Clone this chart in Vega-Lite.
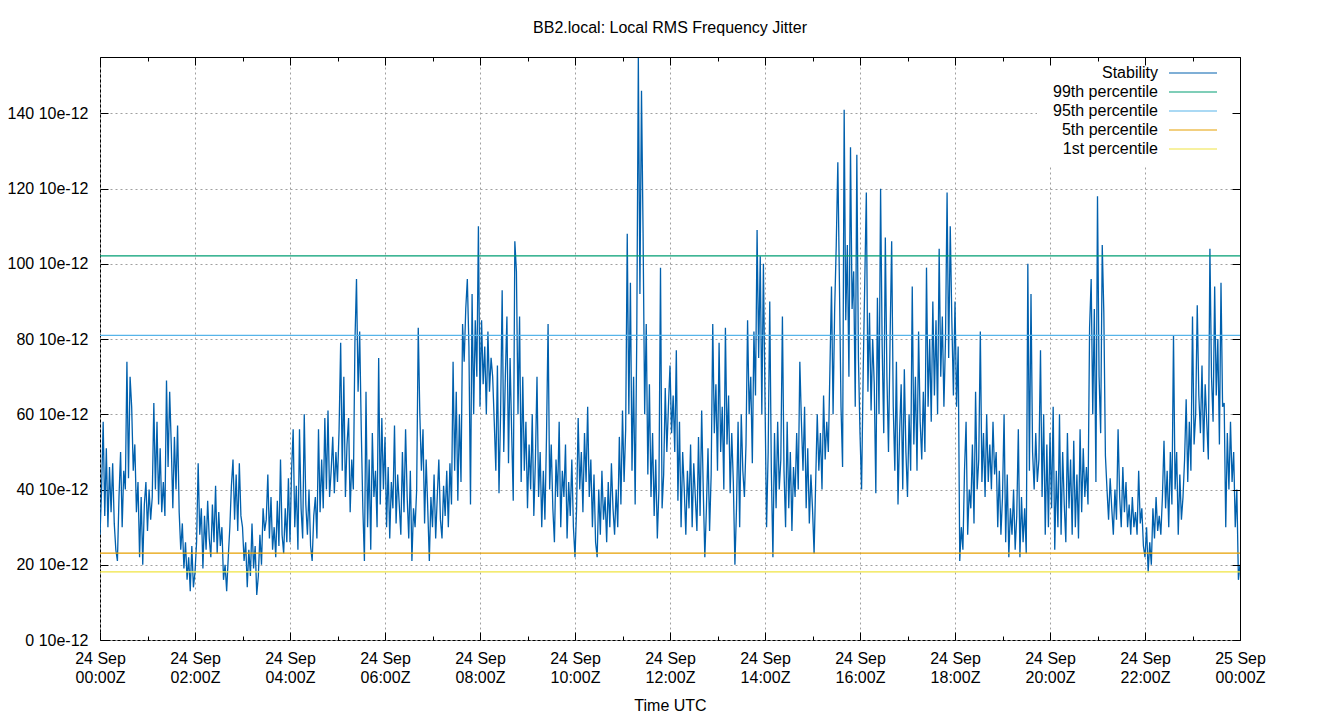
{
"$schema": "https://vega.github.io/schema/vega-lite/v6.json",
"width": 1140, "height": 583,
"autosize": "none",
"padding": {"left": 100, "top": 57, "right": 100, "bottom": 80},
"background": "white",
"config": {
 "font": "Liberation Sans",
 "view": {"stroke": "black", "strokeWidth": 1},
 "axis": {"domain": false, "labelFontSize": 16, "labelColor": "black", "tickColor": "black", "tickWidth": 1, "gridColor": "#a0a0a0", "gridDash": [2, 3], "gridWidth": 1, "titleFontSize": 16, "titleFontWeight": "normal", "titleColor": "black", "labelFont": "Liberation Sans", "titleFont": "Liberation Sans", "labelOverlap": false, "labelBound": false, "labelFlush": false}
},
"title": {"text": "BB2.local: Local RMS Frequency Jitter", "fontSize": 16, "fontWeight": "normal", "color": "black", "font": "Liberation Sans", "anchor": "middle", "offset": 21},
"datasets": {
 "p": [{"s": "99th percentile", "v": 102.1}, {"s": "95th percentile", "v": 81.0}, {"s": "5th percentile", "v": 23.1}, {"s": "1st percentile", "v": 18.1}],
 "st": [
{"m":0,"v":28},{"m":2,"v":40},{"m":4,"v":58},{"m":6,"v":33},{"m":8,"v":51},{"m":10,"v":30},{"m":12,"v":46},{"m":14,"v":34},{"m":16,"v":47},{"m":18,"v":31},
{"m":20,"v":24},{"m":22,"v":21},{"m":24,"v":38},{"m":26,"v":50},{"m":28,"v":30},{"m":30,"v":45},{"m":32,"v":40},{"m":34,"v":74},{"m":36,"v":43},{"m":38,"v":70},
{"m":40,"v":62},{"m":42,"v":45},{"m":44,"v":52},{"m":46,"v":34},{"m":48,"v":42},{"m":50,"v":22},{"m":52,"v":38},{"m":54,"v":20},{"m":56,"v":36},{"m":58,"v":42},
{"m":60,"v":29},{"m":62,"v":40},{"m":64,"v":32},{"m":66,"v":38},{"m":68,"v":63},{"m":70,"v":40},{"m":72,"v":58},{"m":74,"v":36},{"m":76,"v":51},{"m":78,"v":34},
{"m":80,"v":42},{"m":82,"v":33},{"m":84,"v":69},{"m":86,"v":46},{"m":88,"v":66},{"m":90,"v":52},{"m":92,"v":35},{"m":94,"v":54},{"m":96,"v":40},{"m":98,"v":57},
{"m":100,"v":34},{"m":102,"v":24},{"m":104,"v":31},{"m":106,"v":19},{"m":108,"v":26},{"m":110,"v":16},{"m":112,"v":22},{"m":114,"v":13},{"m":116,"v":25},{"m":118,"v":14},
{"m":120,"v":18},{"m":122,"v":26},{"m":124,"v":47},{"m":126,"v":28},{"m":128,"v":35},{"m":130,"v":19},{"m":132,"v":33},{"m":134,"v":24},{"m":136,"v":37},{"m":138,"v":27},
{"m":140,"v":22},{"m":142,"v":36},{"m":144,"v":26},{"m":146,"v":41},{"m":148,"v":23},{"m":150,"v":34},{"m":152,"v":25},{"m":154,"v":30},{"m":156,"v":16},{"m":158,"v":20},
{"m":160,"v":13},{"m":162,"v":22},{"m":164,"v":30},{"m":166,"v":41},{"m":168,"v":48},{"m":170,"v":32},{"m":172,"v":44},{"m":174,"v":29},{"m":176,"v":47},{"m":178,"v":33},
{"m":180,"v":30},{"m":182,"v":21},{"m":184,"v":26},{"m":186,"v":14},{"m":188,"v":24},{"m":190,"v":17},{"m":192,"v":31},{"m":194,"v":19},{"m":196,"v":25},{"m":198,"v":12},
{"m":200,"v":17},{"m":202,"v":28},{"m":204,"v":20},{"m":206,"v":35},{"m":208,"v":29},{"m":210,"v":32},{"m":212,"v":44},{"m":214,"v":27},{"m":216,"v":38},{"m":218,"v":24},
{"m":220,"v":30},{"m":222,"v":22},{"m":224,"v":37},{"m":226,"v":25},{"m":228,"v":48},{"m":230,"v":28},{"m":232,"v":23},{"m":234,"v":35},{"m":236,"v":26},{"m":238,"v":43},
{"m":240,"v":26},{"m":242,"v":45},{"m":244,"v":56},{"m":246,"v":30},{"m":248,"v":41},{"m":250,"v":24},{"m":252,"v":56},{"m":254,"v":35},{"m":256,"v":27},{"m":258,"v":60},
{"m":260,"v":36},{"m":262,"v":28},{"m":264,"v":40},{"m":266,"v":25},{"m":268,"v":21},{"m":270,"v":33},{"m":272,"v":38},{"m":274,"v":27},{"m":276,"v":56},{"m":278,"v":34},
{"m":280,"v":48},{"m":282,"v":35},{"m":284,"v":59},{"m":286,"v":40},{"m":288,"v":61},{"m":290,"v":38},{"m":292,"v":45},{"m":294,"v":54},{"m":296,"v":39},{"m":298,"v":50},
{"m":300,"v":42},{"m":302,"v":56},{"m":304,"v":79},{"m":306,"v":45},{"m":308,"v":70},{"m":310,"v":38},{"m":312,"v":52},{"m":314,"v":59},{"m":316,"v":34},{"m":318,"v":48},
{"m":320,"v":40},{"m":322,"v":79},{"m":324,"v":96},{"m":326,"v":66},{"m":328,"v":82},{"m":330,"v":56},{"m":332,"v":35},{"m":334,"v":21},{"m":336,"v":66},{"m":338,"v":30},
{"m":340,"v":48},{"m":342,"v":24},{"m":344,"v":55},{"m":346,"v":38},{"m":348,"v":45},{"m":350,"v":30},{"m":352,"v":75},{"m":354,"v":36},{"m":356,"v":59},{"m":358,"v":40},
{"m":360,"v":54},{"m":362,"v":30},{"m":364,"v":46},{"m":366,"v":27},{"m":368,"v":42},{"m":370,"v":35},{"m":372,"v":57},{"m":374,"v":31},{"m":376,"v":44},{"m":378,"v":36},
{"m":380,"v":28},{"m":382,"v":50},{"m":384,"v":34},{"m":386,"v":56},{"m":388,"v":38},{"m":390,"v":27},{"m":392,"v":45},{"m":394,"v":21},{"m":396,"v":35},{"m":398,"v":30},
{"m":400,"v":40},{"m":402,"v":83},{"m":404,"v":60},{"m":406,"v":45},{"m":408,"v":56},{"m":410,"v":31},{"m":412,"v":48},{"m":414,"v":35},{"m":416,"v":21},{"m":418,"v":38},
{"m":420,"v":30},{"m":422,"v":44},{"m":424,"v":27},{"m":426,"v":38},{"m":428,"v":48},{"m":430,"v":32},{"m":432,"v":27},{"m":434,"v":41},{"m":436,"v":33},{"m":438,"v":45},
{"m":440,"v":30},{"m":442,"v":47},{"m":444,"v":36},{"m":446,"v":74},{"m":448,"v":45},{"m":450,"v":66},{"m":452,"v":37},{"m":454,"v":60},{"m":456,"v":42},{"m":458,"v":84},
{"m":460,"v":74},{"m":462,"v":88},{"m":464,"v":96},{"m":466,"v":78},{"m":468,"v":36},{"m":470,"v":92},{"m":472,"v":60},{"m":474,"v":85},{"m":476,"v":70},{"m":478,"v":110},
{"m":480,"v":62},{"m":482,"v":85},{"m":484,"v":68},{"m":486,"v":78},{"m":488,"v":60},{"m":490,"v":82},{"m":492,"v":66},{"m":494,"v":75},{"m":496,"v":70},{"m":498,"v":58},
{"m":500,"v":45},{"m":502,"v":73},{"m":504,"v":39},{"m":506,"v":60},{"m":508,"v":93},{"m":510,"v":50},{"m":512,"v":70},{"m":514,"v":86},{"m":516,"v":47},{"m":518,"v":75},
{"m":520,"v":55},{"m":522,"v":37},{"m":524,"v":106},{"m":526,"v":98},{"m":528,"v":60},{"m":530,"v":86},{"m":532,"v":42},{"m":534,"v":70},{"m":536,"v":45},{"m":538,"v":58},
{"m":540,"v":35},{"m":542,"v":52},{"m":544,"v":40},{"m":546,"v":60},{"m":548,"v":33},{"m":550,"v":48},{"m":552,"v":70},{"m":554,"v":38},{"m":556,"v":50},{"m":558,"v":30},
{"m":560,"v":45},{"m":562,"v":32},{"m":564,"v":54},{"m":566,"v":84},{"m":568,"v":40},{"m":570,"v":52},{"m":572,"v":35},{"m":574,"v":26},{"m":576,"v":48},{"m":578,"v":38},
{"m":580,"v":58},{"m":582,"v":30},{"m":584,"v":45},{"m":586,"v":38},{"m":588,"v":52},{"m":590,"v":27},{"m":592,"v":42},{"m":594,"v":33},{"m":596,"v":48},{"m":598,"v":30},
{"m":600,"v":22},{"m":602,"v":35},{"m":604,"v":59},{"m":606,"v":40},{"m":608,"v":50},{"m":610,"v":34},{"m":612,"v":55},{"m":614,"v":42},{"m":616,"v":62},{"m":618,"v":38},
{"m":620,"v":48},{"m":622,"v":30},{"m":624,"v":44},{"m":626,"v":26},{"m":628,"v":22},{"m":630,"v":40},{"m":632,"v":28},{"m":634,"v":45},{"m":636,"v":32},{"m":638,"v":38},
{"m":640,"v":26},{"m":642,"v":42},{"m":644,"v":30},{"m":646,"v":47},{"m":648,"v":35},{"m":650,"v":28},{"m":652,"v":40},{"m":654,"v":30},{"m":656,"v":54},{"m":658,"v":36},
{"m":660,"v":61},{"m":662,"v":42},{"m":664,"v":56},{"m":666,"v":108},{"m":668,"v":60},{"m":670,"v":95},{"m":672,"v":45},{"m":674,"v":70},{"m":676,"v":36},{"m":678,"v":80},
{"m":680,"v":155},{"m":682,"v":92},{"m":684,"v":146},{"m":686,"v":108},{"m":688,"v":60},{"m":690,"v":84},{"m":692,"v":44},{"m":694,"v":68},{"m":696,"v":38},{"m":698,"v":55},
{"m":700,"v":33},{"m":702,"v":48},{"m":704,"v":27},{"m":706,"v":40},{"m":708,"v":99},{"m":710,"v":35},{"m":712,"v":44},{"m":714,"v":67},{"m":716,"v":50},{"m":718,"v":62},
{"m":720,"v":73},{"m":722,"v":55},{"m":724,"v":65},{"m":726,"v":50},{"m":728,"v":77},{"m":730,"v":37},{"m":732,"v":58},{"m":734,"v":30},{"m":736,"v":50},{"m":738,"v":40},
{"m":740,"v":28},{"m":742,"v":45},{"m":744,"v":35},{"m":746,"v":52},{"m":748,"v":30},{"m":750,"v":47},{"m":752,"v":38},{"m":754,"v":29},{"m":756,"v":54},{"m":758,"v":33},
{"m":760,"v":61},{"m":762,"v":40},{"m":764,"v":22},{"m":766,"v":35},{"m":768,"v":51},{"m":770,"v":29},{"m":772,"v":44},{"m":774,"v":84},{"m":776,"v":55},{"m":778,"v":68},
{"m":780,"v":45},{"m":782,"v":79},{"m":784,"v":50},{"m":786,"v":62},{"m":788,"v":40},{"m":790,"v":83},{"m":792,"v":52},{"m":794,"v":65},{"m":796,"v":39},{"m":798,"v":55},
{"m":800,"v":42},{"m":802,"v":20},{"m":804,"v":35},{"m":806,"v":58},{"m":808,"v":30},{"m":810,"v":60},{"m":812,"v":45},{"m":814,"v":38},{"m":816,"v":52},{"m":818,"v":85},
{"m":820,"v":60},{"m":822,"v":70},{"m":824,"v":47},{"m":826,"v":82},{"m":828,"v":65},{"m":830,"v":109},{"m":832,"v":75},{"m":834,"v":102},{"m":836,"v":60},{"m":838,"v":100},
{"m":840,"v":64},{"m":842,"v":30},{"m":844,"v":50},{"m":846,"v":90},{"m":848,"v":45},{"m":850,"v":22},{"m":852,"v":55},{"m":854,"v":35},{"m":856,"v":58},{"m":858,"v":40},
{"m":860,"v":48},{"m":862,"v":86},{"m":864,"v":45},{"m":866,"v":30},{"m":868,"v":58},{"m":870,"v":35},{"m":872,"v":50},{"m":874,"v":29},{"m":876,"v":46},{"m":878,"v":38},
{"m":880,"v":55},{"m":882,"v":40},{"m":884,"v":74},{"m":886,"v":58},{"m":888,"v":45},{"m":890,"v":62},{"m":892,"v":35},{"m":894,"v":51},{"m":896,"v":31},{"m":898,"v":44},
{"m":900,"v":35},{"m":902,"v":23},{"m":904,"v":42},{"m":906,"v":60},{"m":908,"v":45},{"m":910,"v":55},{"m":912,"v":40},{"m":914,"v":65},{"m":916,"v":48},{"m":918,"v":58},
{"m":920,"v":50},{"m":922,"v":72},{"m":924,"v":94},{"m":926,"v":60},{"m":928,"v":88},{"m":930,"v":105},{"m":932,"v":127},{"m":934,"v":95},{"m":936,"v":62},{"m":938,"v":46},
{"m":940,"v":141},{"m":942,"v":85},{"m":944,"v":105},{"m":946,"v":70},{"m":948,"v":131},{"m":950,"v":88},{"m":952,"v":98},{"m":954,"v":62},{"m":956,"v":129},{"m":958,"v":75},
{"m":960,"v":55},{"m":962,"v":40},{"m":964,"v":71},{"m":966,"v":95},{"m":968,"v":119},{"m":970,"v":66},{"m":972,"v":87},{"m":974,"v":61},{"m":976,"v":80},{"m":978,"v":68},
{"m":980,"v":39},{"m":982,"v":91},{"m":984,"v":60},{"m":986,"v":120},{"m":988,"v":78},{"m":990,"v":55},{"m":992,"v":107},{"m":994,"v":70},{"m":996,"v":50},{"m":998,"v":80},
{"m":1000,"v":106},{"m":1002,"v":62},{"m":1004,"v":45},{"m":1006,"v":74},{"m":1008,"v":36},{"m":1010,"v":55},{"m":1012,"v":68},{"m":1014,"v":40},{"m":1016,"v":72},{"m":1018,"v":50},
{"m":1020,"v":38},{"m":1022,"v":60},{"m":1024,"v":45},{"m":1026,"v":94},{"m":1028,"v":52},{"m":1030,"v":70},{"m":1032,"v":45},{"m":1034,"v":82},{"m":1036,"v":58},{"m":1038,"v":48},
{"m":1040,"v":66},{"m":1042,"v":50},{"m":1044,"v":99},{"m":1046,"v":62},{"m":1048,"v":80},{"m":1050,"v":58},{"m":1052,"v":90},{"m":1054,"v":65},{"m":1056,"v":85},{"m":1058,"v":60},
{"m":1060,"v":104},{"m":1062,"v":70},{"m":1064,"v":86},{"m":1066,"v":62},{"m":1068,"v":80},{"m":1070,"v":119},{"m":1072,"v":75},{"m":1074,"v":110},{"m":1076,"v":85},{"m":1078,"v":65},
{"m":1080,"v":90},{"m":1082,"v":62},{"m":1084,"v":78},{"m":1086,"v":21},{"m":1088,"v":30},{"m":1090,"v":24},{"m":1092,"v":45},{"m":1094,"v":58},{"m":1096,"v":28},{"m":1098,"v":40},
{"m":1100,"v":35},{"m":1102,"v":52},{"m":1104,"v":31},{"m":1106,"v":66},{"m":1108,"v":40},{"m":1110,"v":48},{"m":1112,"v":82},{"m":1114,"v":42},{"m":1116,"v":55},{"m":1118,"v":38},
{"m":1120,"v":60},{"m":1122,"v":42},{"m":1124,"v":52},{"m":1126,"v":40},{"m":1128,"v":58},{"m":1130,"v":44},{"m":1132,"v":50},{"m":1134,"v":30},{"m":1136,"v":45},{"m":1138,"v":28},
{"m":1140,"v":38},{"m":1142,"v":60},{"m":1144,"v":26},{"m":1146,"v":44},{"m":1148,"v":22},{"m":1150,"v":35},{"m":1152,"v":28},{"m":1154,"v":40},{"m":1156,"v":24},{"m":1158,"v":33},
{"m":1160,"v":56},{"m":1162,"v":22},{"m":1164,"v":38},{"m":1166,"v":26},{"m":1168,"v":35},{"m":1170,"v":23},{"m":1172,"v":100},{"m":1174,"v":45},{"m":1176,"v":92},{"m":1178,"v":50},
{"m":1180,"v":40},{"m":1182,"v":55},{"m":1184,"v":42},{"m":1186,"v":48},{"m":1188,"v":77},{"m":1190,"v":38},{"m":1192,"v":60},{"m":1194,"v":28},{"m":1196,"v":52},{"m":1198,"v":30},
{"m":1200,"v":55},{"m":1202,"v":35},{"m":1204,"v":62},{"m":1206,"v":24},{"m":1208,"v":45},{"m":1210,"v":30},{"m":1212,"v":60},{"m":1214,"v":28},{"m":1216,"v":50},{"m":1218,"v":36},
{"m":1220,"v":26},{"m":1222,"v":55},{"m":1224,"v":35},{"m":1226,"v":48},{"m":1228,"v":28},{"m":1230,"v":53},{"m":1232,"v":30},{"m":1234,"v":44},{"m":1236,"v":27},{"m":1238,"v":56},
{"m":1240,"v":34},{"m":1242,"v":51},{"m":1244,"v":38},{"m":1246,"v":46},{"m":1248,"v":36},{"m":1250,"v":83},{"m":1252,"v":96},{"m":1254,"v":60},{"m":1256,"v":88},{"m":1258,"v":42},
{"m":1260,"v":118},{"m":1262,"v":70},{"m":1264,"v":55},{"m":1266,"v":105},{"m":1268,"v":87},{"m":1270,"v":49},{"m":1272,"v":40},{"m":1274,"v":32},{"m":1276,"v":43},{"m":1278,"v":35},
{"m":1280,"v":28},{"m":1282,"v":40},{"m":1284,"v":32},{"m":1286,"v":56},{"m":1288,"v":38},{"m":1290,"v":30},{"m":1292,"v":46},{"m":1294,"v":34},{"m":1296,"v":42},{"m":1298,"v":30},
{"m":1300,"v":36},{"m":1302,"v":28},{"m":1304,"v":38},{"m":1306,"v":30},{"m":1308,"v":34},{"m":1310,"v":28},{"m":1312,"v":45},{"m":1314,"v":31},{"m":1316,"v":35},{"m":1318,"v":25},
{"m":1320,"v":22},{"m":1322,"v":30},{"m":1324,"v":18},{"m":1326,"v":26},{"m":1328,"v":20},{"m":1330,"v":35},{"m":1332,"v":27},{"m":1334,"v":38},{"m":1336,"v":29},{"m":1338,"v":33},
{"m":1340,"v":28},{"m":1342,"v":38},{"m":1344,"v":53},{"m":1346,"v":35},{"m":1348,"v":45},{"m":1350,"v":30},{"m":1352,"v":50},{"m":1354,"v":36},{"m":1356,"v":81},{"m":1358,"v":40},
{"m":1360,"v":50},{"m":1362,"v":28},{"m":1364,"v":44},{"m":1366,"v":32},{"m":1368,"v":38},{"m":1370,"v":48},{"m":1372,"v":64},{"m":1374,"v":42},{"m":1376,"v":58},{"m":1378,"v":45},
{"m":1380,"v":86},{"m":1382,"v":52},{"m":1384,"v":60},{"m":1386,"v":89},{"m":1388,"v":65},{"m":1390,"v":55},{"m":1392,"v":73},{"m":1394,"v":50},{"m":1396,"v":68},{"m":1398,"v":58},
{"m":1400,"v":48},{"m":1402,"v":104},{"m":1404,"v":70},{"m":1406,"v":58},{"m":1408,"v":94},{"m":1410,"v":65},{"m":1412,"v":80},{"m":1414,"v":52},{"m":1416,"v":95},{"m":1418,"v":62},
{"m":1420,"v":63},{"m":1422,"v":30},{"m":1424,"v":55},{"m":1426,"v":40},{"m":1428,"v":58},{"m":1430,"v":42},{"m":1432,"v":50},{"m":1434,"v":30},{"m":1436,"v":40},{"m":1438,"v":16},
{"m":1440,"v":20}
 ]
},
"layer": [
 {
  "data": {"name": "st"},
  "mark": {"type": "line", "strokeWidth": 1.3, "clip": true},
  "encoding": {
   "x": {"field": "m", "type": "quantitative",
    "scale": {"domain": [0, 1440], "nice": false, "zero": false},
    "axis": {"orient": "bottom",
     "values": [0,60,120,180,240,300,360,420,480,540,600,660,720,780,840,900,960,1020,1080,1140,1200,1260,1320,1380,1440],
     "grid": true,
     "gridOpacity": {"condition": {"test": "datum.value % 120 == 0", "value": 1}, "value": 0},
     "tickSize": {"condition": {"test": "datum.value % 120 == 0", "value": -8}, "value": -4},
     "labelExpr": "datum.value % 120 == 0 ? [datum.value < 1440 ? '24 Sep' : '25 Sep', (datum.value < 600 || datum.value == 1440 ? '0' : '') + floor((datum.value % 1440) / 60) + ':00Z'] : ''",
     "labelPadding": 18, "labelLineHeight": 19, "labelBaseline": "top",
     "title": "Time UTC", "titlePadding": 12}},
   "y": {"field": "v", "type": "quantitative",
    "scale": {"domain": [0, 155], "nice": false, "zero": true},
    "axis": {"orient": "left", "values": [0,20,40,60,80,100,120,140], "grid": true, "tickSize": -8,
     "labelExpr": "datum.value + ' 10e-12'", "labelPadding": 20, "title": null}},
   "color": {"datum": "Stability", "type": "nominal", "title": null,
    "scale": {"domain": ["Stability", "99th percentile", "95th percentile", "5th percentile", "1st percentile"],
              "range": ["#0060ad", "#009e73", "#56b4e9", "#e69f00", "#f0e442"]},
    "legend": {"orient": "top-right", "title": null, "offset": 0, "padding": 8, "fillColor": "white",
     "labelFontSize": 16, "labelColor": "black", "labelFont": "Liberation Sans",
     "symbolType": "M-4,0H4M6,0", "symbolSize": 144, "symbolStrokeWidth": 1.2, "symbolOffset": 140,
     "labelAlign": "right", "labelOffset": -43, "rowPadding": 3}}
  }
 },
 {
  "data": {"name": "p"},
  "mark": {"type": "rule", "strokeWidth": 1.2},
  "encoding": {
   "y": {"field": "v", "type": "quantitative",
    "axis": {"orient": "right", "values": [0,20,40,60,80,100,120,140], "grid": false, "labels": false, "tickSize": -8, "title": null,
     "domain": true, "domainColor": "black", "domainWidth": 1, "zindex": 2}},
   "x": {"datum": 0, "type": "quantitative",
    "axis": {"orient": "top",
     "values": [0,60,120,180,240,300,360,420,480,540,600,660,720,780,840,900,960,1020,1080,1140,1200,1260,1320,1380,1440],
     "grid": false, "labels": false,
     "tickSize": {"condition": {"test": "datum.value % 120 == 0", "value": -8}, "value": -4},
     "title": null, "domain": true, "domainColor": "black", "domainWidth": 1, "zindex": 2}},
   "x2": {"datum": 1440},
   "color": {"field": "s", "type": "nominal", "title": null}
  }
 }
]
}
